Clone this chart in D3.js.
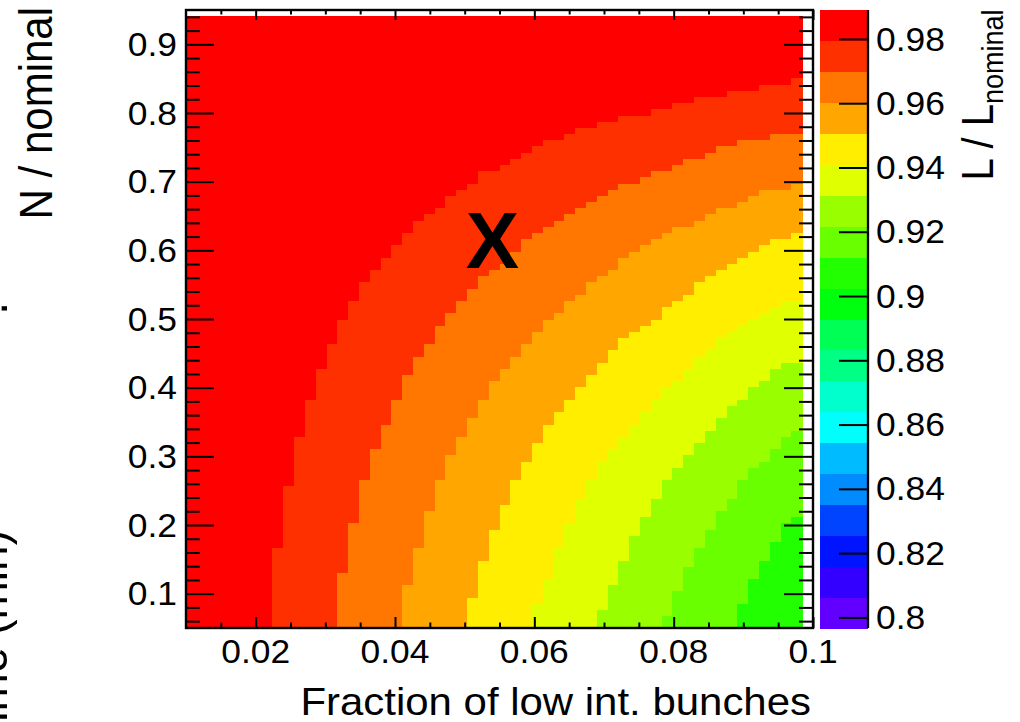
<!DOCTYPE html>
<html><head><meta charset="utf-8">
<script src="https://cdn.jsdelivr.net/npm/d3@7"></script>
<style>
html,body{margin:0;padding:0;background:#fff;}
svg{display:block;}
text{font-family:"Liberation Sans",Arial,Helvetica,sans-serif;fill:#000;}
</style></head>
<body><svg id="c" width="1020" height="722"></svg>
<script>
// ---------------- data ----------------
const xDomain = [0.01, 0.1];            // Fraction of low int. bunches
const yDomain = [0.05, 0.95];           // N / nominal
const zDomain = [0.7967, 0.9890];       // L / L_nominal (colour range)
const nBinsX = 58, nBinsY = 100;        // histogram binning
const filledBinsX = 57, filledBinsY = 99; // last column / row left empty
const nContours = 20;

const xTickValues = [0.02, 0.04, 0.06, 0.08, 0.1];
const xTickLabels = ["0.02", "0.04", "0.06", "0.08", "0.1"];
const yTickValues = [0.1, 0.2, 0.3, 0.4, 0.5, 0.6, 0.7, 0.8, 0.9];
const yTickLabels = ["0.1", "0.2", "0.3", "0.4", "0.5", "0.6", "0.7", "0.8", "0.9"];
const zTickValues = [0.8, 0.82, 0.84, 0.86, 0.88, 0.9, 0.92, 0.94, 0.96, 0.98];
const zTickLabels = ["0.8", "0.82", "0.84", "0.86", "0.88", "0.9", "0.92", "0.94", "0.96", "0.98"];

const palette = ["#6200ff","#3300ff","#0014ff","#0044ff","#008bff","#00bbff","#00fffc","#00ffcc","#00ff85","#00ff55",
                 "#00ff0e","#22ff00","#69ff00","#99ff00","#e0ff00","#ffee00","#ffa700","#ff7700","#ff3000","#ff0000"];

// contour-band boundaries: [fraction, N/nominal]
const boundary1 = [[0.02241,0.05],[0.02241,0.1169],[0.02397,0.2245],[0.02552,0.2958],[0.02707,0.3555],[0.02862,0.4049],[0.03017,0.4456],[0.03172,0.4805],[0.03328,0.5111],[0.03483,0.5387],[0.03638,0.5605],[0.03793,0.5795],[0.03948,0.5969],[0.04103,0.6143],[0.04259,0.6333],[0.04414,0.6464],[0.04569,0.6594],[0.04724,0.6725],[0.04879,0.6827],[0.05034,0.6914],[0.0519,0.706],[0.05345,0.718],[0.05655,0.7271],[0.0581,0.7361],[0.05966,0.7453],[0.06121,0.7544],[0.06431,0.7634],[0.06586,0.7725],[0.06897,0.7816],[0.07207,0.7904],[0.07517,0.7991],[0.07828,0.8082],[0.08138,0.8173],[0.08603,0.8267],[0.09069,0.8354],[0.09534,0.8442],[0.1,0.85]];
const boundary2 = [[0.03172,0.05],[0.03172,0.0951],[0.03328,0.1751],[0.03483,0.2376],[0.03638,0.2871],[0.03793,0.3278],[0.03948,0.3642],[0.04103,0.3991],[0.04259,0.4311],[0.04414,0.4529],[0.04569,0.4754],[0.04724,0.4994],[0.04879,0.5169],[0.05034,0.5344],[0.0519,0.5518],[0.05345,0.5653],[0.055,0.5751],[0.05655,0.5896],[0.0581,0.6064],[0.05966,0.6197],[0.06121,0.6289],[0.06276,0.6381],[0.06431,0.6466],[0.06586,0.6555],[0.06741,0.6645],[0.06897,0.673],[0.07052,0.6823],[0.07207,0.6914],[0.07362,0.6999],[0.07672,0.7085],[0.07828,0.7176],[0.08138,0.7268],[0.08293,0.7358],[0.08603,0.7453],[0.08914,0.7545],[0.09224,0.7634],[0.0969,0.7725],[0.1,0.7773]];
const boundary3 = [[0.04103,0.05],[0.04103,0.0805],[0.04259,0.1431],[0.04414,0.1969],[0.04569,0.242],[0.04724,0.2827],[0.04879,0.3137],[0.05034,0.3409],[0.0519,0.3678],[0.05345,0.3947],[0.055,0.4173],[0.05655,0.4354],[0.0581,0.4539],[0.05966,0.4711],[0.06121,0.4871],[0.06276,0.5045],[0.06431,0.5191],[0.06586,0.5336],[0.06741,0.547],[0.06897,0.5562],[0.07052,0.5696],[0.07207,0.5828],[0.07362,0.5918],[0.07517,0.6002],[0.07672,0.6096],[0.07828,0.6192],[0.07983,0.6285],[0.08138,0.6369],[0.08448,0.6459],[0.08603,0.6548],[0.08759,0.6638],[0.09069,0.673],[0.09224,0.6823],[0.09534,0.6914],[0.1,0.6958]];
const boundary4 = [[0.05034,0.05],[0.05034,0.0733],[0.0519,0.1213],[0.05345,0.1703],[0.055,0.2107],[0.05655,0.2464],[0.0581,0.2781],[0.05966,0.3053],[0.06121,0.3319],[0.06276,0.3537],[0.06431,0.3719],[0.06586,0.3901],[0.06741,0.4075],[0.06897,0.4257],[0.07052,0.4442],[0.07207,0.4624],[0.07362,0.4762],[0.07517,0.4852],[0.07672,0.4961],[0.07828,0.5096],[0.07983,0.5205],[0.08138,0.5314],[0.08293,0.5453],[0.08448,0.5562],[0.08603,0.5652],[0.08759,0.5739],[0.08914,0.5828],[0.09069,0.5922],[0.09224,0.601],[0.09379,0.6097],[0.09534,0.6173],[0.0969,0.6221],[0.1,0.6245]];
const boundary5 = [[0.05966,0.05],[0.05966,0.0638],[0.06121,0.1031],[0.06276,0.1467],[0.06431,0.1831],[0.06586,0.2194],[0.06741,0.2496],[0.06897,0.2773],[0.07052,0.3005],[0.07207,0.3187],[0.07362,0.3368],[0.07517,0.3537],[0.07672,0.3719],[0.07828,0.3901],[0.07983,0.4075],[0.08138,0.4213],[0.08293,0.435],[0.08448,0.4485],[0.08603,0.4624],[0.08759,0.4762],[0.08914,0.4849],[0.09069,0.4929],[0.09224,0.5028],[0.09379,0.5114],[0.09534,0.5198],[0.0969,0.5296],[0.1,0.5344]];
const boundary6 = [[0.06897,0.05],[0.06897,0.0587],[0.07052,0.0888],[0.07207,0.1296],[0.07362,0.1659],[0.07517,0.1972],[0.07672,0.2241],[0.07828,0.2514],[0.07983,0.2737],[0.08138,0.2907],[0.08293,0.3089],[0.08448,0.3275],[0.08603,0.3453],[0.08759,0.363],[0.08914,0.3768],[0.09069,0.3901],[0.09224,0.4034],[0.09379,0.4173],[0.09534,0.4311],[0.0969,0.4398],[0.1,0.4442]];
const boundary7 = [[0.07828,0.05],[0.07828,0.0544],[0.07983,0.0801],[0.08138,0.121],[0.08293,0.1528],[0.08448,0.1795],[0.08603,0.2059],[0.08759,0.2285],[0.08914,0.251],[0.09069,0.2733],[0.09224,0.2907],[0.09379,0.3041],[0.09534,0.3187],[0.0969,0.3368],[0.1,0.3453]];
const boundary8 = [[0.08914,0.05],[0.08914,0.0721],[0.09069,0.1075],[0.09224,0.1384],[0.09379,0.1659],[0.09534,0.1889],[0.0969,0.2107],[0.1,0.2192]];
const boundaries = [boundary1, boundary2, boundary3, boundary4, boundary5, boundary6, boundary7, boundary8];

const marker = {f: 0.054, n: 0.574, label: "X"};

// ---------------- drawing ----------------
const svg = d3.select("#c");
const SX = 1.09; // horizontal stretch of the original image's lettering
const x = d3.scaleLinear().domain(xDomain).range([186, 813]);
const y = d3.scaleLinear().domain(yDomain).range([628, 10]);
const z = d3.scaleLinear().domain(zDomain).range([628, 10]);
const color = d3.scaleQuantize().domain(zDomain).range(palette);
const dz = (zDomain[1] - zDomain[0]) / nContours;

svg.append("rect").attr("width", 1020).attr("height", 722).attr("fill", "#fff");

// cells
const bScales = boundaries.map(pts => ({
  s: d3.scaleLinear().domain(pts.map(p => p[1])).range(pts.map(p => p[0])),
  nMax: pts[pts.length - 1][1]
}));
const bx = (xDomain[1] - xDomain[0]) / nBinsX;
const by = (yDomain[1] - yDomain[0]) / nBinsY;
const cells = [];
for (let i = 0; i < filledBinsX; i++) {
  for (let j = 0; j < filledBinsY; j++) {
    const f0 = xDomain[0] + i * bx, n0 = yDomain[0] + j * by;
    const fc = f0 + bx / 2, nc = n0 + by / 2;
    let below = 0;
    bScales.forEach(b => { const fb = nc > b.nMax ? Infinity : b.s(nc); if (fc > fb) below++; });
    const band = nContours - 1 - below;
    cells.push({f0, f1: f0 + bx, n0, n1: n0 + by, z: zDomain[0] + (band + 0.5) * dz});
  }
}
svg.append("g").attr("shape-rendering", "crispEdges")
  .selectAll("rect").data(cells).join("rect")
  .attr("x", d => x(d.f0)).attr("y", d => y(d.n1))
  .attr("width", d => x(d.f1) - x(d.f0) + 0.5)
  .attr("height", d => y(d.n0) - y(d.n1) + 0.5)
  .attr("fill", d => color(d.z));

// marker
svg.append("text").attr("x", x(marker.f)).attr("y", y(marker.n))
  .attr("text-anchor", "middle").style("font-size", "80px").style("font-weight", "bold")
  .text(marker.label);

// axes ticks
const xMinor = d3.range(3, 20).filter(k => k % 4 !== 0).map(k => k * 0.005);
const yMinor = d3.range(3, 48).filter(k => k % 5 !== 0).map(k => k * 0.02);
function styleAxis(g) { g.select(".domain").remove(); g.selectAll("line").attr("stroke", "#000").attr("stroke-width", 2); g.selectAll("text").remove(); }
svg.append("g").attr("transform", "translate(0,628)").call(d3.axisBottom(x).tickValues(xTickValues).tickSize(-11)).call(styleAxis);
svg.append("g").attr("transform", "translate(0,628)").call(d3.axisBottom(x).tickValues(xMinor).tickSize(-5.5)).call(styleAxis);
svg.append("g").attr("transform", "translate(0,10)").call(d3.axisTop(x).tickValues(xTickValues).tickSize(-10)).call(styleAxis);
svg.append("g").attr("transform", "translate(0,10)").call(d3.axisTop(x).tickValues(xMinor).tickSize(-4.5)).call(styleAxis);
svg.append("g").attr("transform", "translate(186,0)").call(d3.axisLeft(y).tickValues(yTickValues).tickSize(-28)).call(styleAxis);
svg.append("g").attr("transform", "translate(186,0)").call(d3.axisLeft(y).tickValues(yMinor).tickSize(-14)).call(styleAxis);
svg.append("g").attr("transform", "translate(813,0)").call(d3.axisRight(y).tickValues(yTickValues).tickSize(-29)).call(styleAxis);
svg.append("g").attr("transform", "translate(813,0)").call(d3.axisRight(y).tickValues(yMinor).tickSize(-14)).call(styleAxis);

// frame
svg.append("rect").attr("x", 186).attr("y", 10).attr("width", 627).attr("height", 618)
  .attr("fill", "none").attr("stroke", "#000").attr("stroke-width", 2.4);

// tick labels
svg.append("g").selectAll("text").data(xTickValues).join("text")
  .attr("transform", d => `translate(${x(d)},663) scale(${SX},1)`)
  .attr("text-anchor", "middle").style("font-size", "32.5px")
  .text((d, i) => xTickLabels[i]);
svg.append("g").selectAll("text").data(yTickValues).join("text")
  .attr("transform", d => `translate(177,${y(d) + 11.6}) scale(${SX},1)`)
  .attr("text-anchor", "end").style("font-size", "32.5px")
  .text((d, i) => yTickLabels[i]);

// colour bar
const bands = d3.range(nContours);
svg.append("g").attr("shape-rendering", "crispEdges").selectAll("rect").data(bands).join("rect")
  .attr("x", 819.5).attr("width", 48.5)
  .attr("y", b => z(zDomain[0] + (b + 1) * dz))
  .attr("height", b => z(zDomain[0] + b * dz) - z(zDomain[0] + (b + 1) * dz) + 0.5)
  .attr("fill", b => color(zDomain[0] + (b + 0.5) * dz));
svg.append("g").attr("transform", "translate(868,0)")
  .call(d3.axisRight(z).tickValues(zTickValues).tickSize(-29))
  .call(g => { g.select(".domain").remove(); g.selectAll("text").remove(); g.selectAll("line").attr("stroke", "#000").attr("stroke-width", 2); });
svg.append("line").attr("x1", 868).attr("x2", 868).attr("y1", 10).attr("y2", 628)
  .attr("stroke", "#000").attr("stroke-width", 2.3);
svg.append("g").selectAll("text").data(zTickValues).join("text")
  .attr("transform", d => `translate(876,${z(d) + 11.6}) scale(${SX},1)`)
  .style("font-size", "32.5px")
  .text((d, i) => zTickLabels[i]);

// titles
svg.append("text").attr("transform", `translate(811,715) scale(${SX},1)`)
  .attr("text-anchor", "end").style("font-size", "38.5px")
  .text("Fraction of low int. bunches");
svg.append("text").attr("transform", `translate(52,7) scale(${SX},1) rotate(-90)`)
  .attr("text-anchor", "end").style("font-size", "42px")
  .text("N / nominal");
const zt = svg.append("text").attr("transform", `translate(993,9.5) scale(${SX},1) rotate(-90)`)
  .attr("text-anchor", "end");
zt.append("tspan").style("font-size", "40px").text("L / L");
zt.append("tspan").attr("dy", 9).style("font-size", "27px").text("nominal");

// clipped labels of the neighbouring panel
svg.append("text").attr("transform", `translate(6.5,530) scale(${SX},1) rotate(-90)`)
  .attr("text-anchor", "end").style("font-size", "46px")
  .text("Time (min)");
svg.append("text").attr("transform", `translate(7,302) scale(${SX},1) rotate(-90)`)
  .attr("text-anchor", "end").style("font-size", "46px")
  .text(".");
</script>
</body></html>
